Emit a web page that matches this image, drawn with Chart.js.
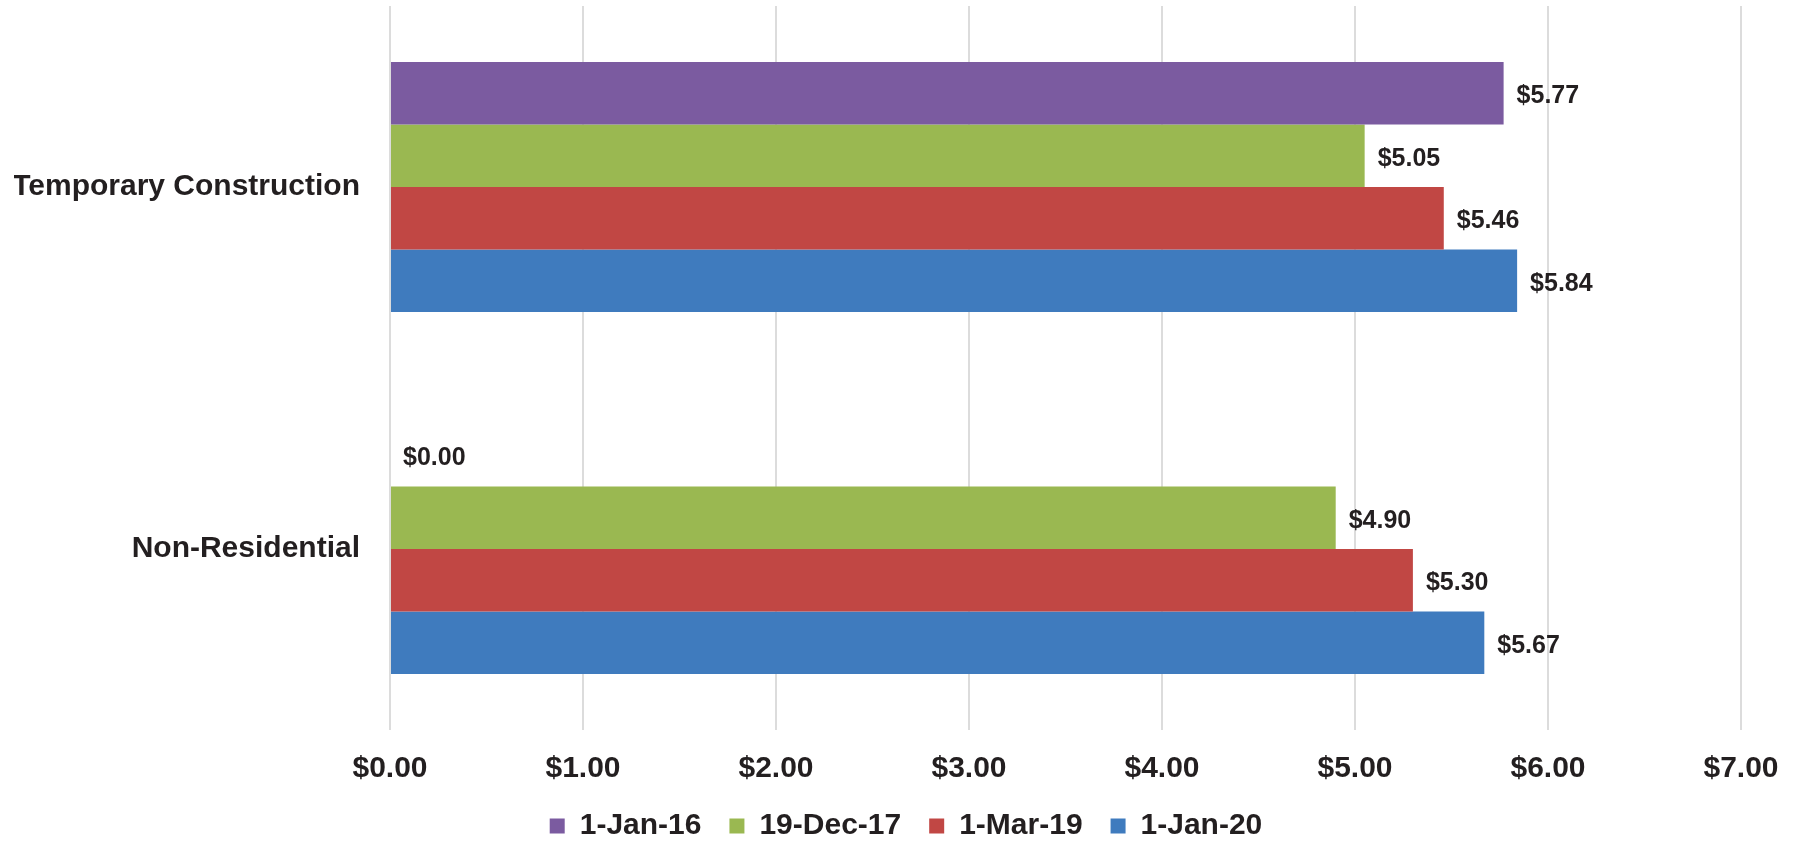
<!DOCTYPE html>
<html>
<head>
<meta charset="utf-8">
<script src="https://cdn.jsdelivr.net/npm/chart.js@4.4.0/dist/chart.umd.min.js"></script>
<style>
  html, body { margin: 0; padding: 0; background: #fff; }
  #wrap { width: 1798px; height: 842px; }
</style>
</head>
<body>
<div id="wrap"><canvas id="chart" width="1798" height="842"></canvas></div>
<script>
    // chart data
    let categories = ['Temporary Construction', 'Non-Residential'];
    let seriesNames = ['1-Jan-16', '19-Dec-17', '1-Mar-19', '1-Jan-20'];
    let jan16 = [5.77, 0.00];
    let dec17 = [5.05, 4.90];
    let mar19 = [5.46, 5.30];
    let jan20 = [5.84, 5.67];
    let tickValues = [0, 1, 2, 3, 4, 5, 6, 7];

    let colors = ['#7b5ba0', '#9ab851', '#c14744', '#3f7bbe'];
    let textColor = '#231f20';
    let fontFamily = '"Liberation Sans", Arial, Helvetica, sans-serif';

    //draws the "$x.xx" value next to each bar
    let valueLabels = {
        id: 'valueLabels',
        afterDatasetsDraw: function (chart) {
            let ctx = chart.ctx;
            ctx.save();
            ctx.font = 'bold 25px ' + fontFamily;
            ctx.fillStyle = textColor;
            ctx.textAlign = 'left';
            ctx.textBaseline = 'middle';
            chart.data.datasets.forEach((ds, i) => {
                let meta = chart.getDatasetMeta(i);
                meta.data.forEach((bar, j) => {
                    ctx.fillText('$' + ds.data[j].toFixed(2), bar.x + 13, bar.y + 3);
                });
            });
            ctx.restore();
        }
    };

    let seriesData = [jan16, dec17, mar19, jan20];

    let config = {
        type: 'bar',
        data: {
            labels: categories,
            datasets: seriesNames.map((name, i) => ({
                label: name,
                data: seriesData[i],
                backgroundColor: colors[i],
                borderWidth: 0,
                categoryPercentage: 0.69,
                barPercentage: 1.0
            }))
        },
        options: {
            indexAxis: 'y',
            responsive: false,
            animation: false,
            layout: {
                padding: {left: 14, right: 0, top: 6, bottom: -9}
            },
            scales: {
                x: {
                    min: 0,
                    max: 7,
                    afterBuildTicks: function (axis) {
                        axis.ticks = tickValues.map(v => ({value: v}));
                    },
                    afterFit: function (axis) {
                        axis.height = 53;
                        axis.paddingLeft = 0;
                        axis.paddingRight = 57;
                    },
                    grid: {
                        color: '#dcdcdc',
                        lineWidth: 2,
                        drawTicks: false
                    },
                    border: {display: false},
                    ticks: {
                        padding: 21,
                        color: textColor,
                        font: {family: fontFamily, size: 30, weight: 'bold'},
                        callback: function (value) {
                            return '$' + Number(value).toFixed(2);
                        }
                    }
                },
                y: {
                    grid: {display: false, drawTicks: false},
                    border: {display: false},
                    afterFit: function (axis) {
                        axis.width = 376;
                        axis.paddingTop = 0;
                        axis.paddingBottom = 0;
                    },
                    ticks: {
                        padding: 30,
                        color: textColor,
                        font: {family: fontFamily, size: 30, weight: 'bold'}
                    }
                }
            },
            plugins: {
                legend: {
                    position: 'bottom',
                    labels: {
                        boxWidth: 15,
                        boxHeight: 15,
                        padding: 28,
                        color: textColor,
                        font: {family: fontFamily, size: 30, weight: 'bold'}
                    }
                },
                tooltip: {enabled: false}
            }
        },
        plugins: [valueLabels]
    };

    let context = document.getElementById('chart').getContext('2d');
    let chart = new Chart(context, config);
</script>
</body>
</html>
